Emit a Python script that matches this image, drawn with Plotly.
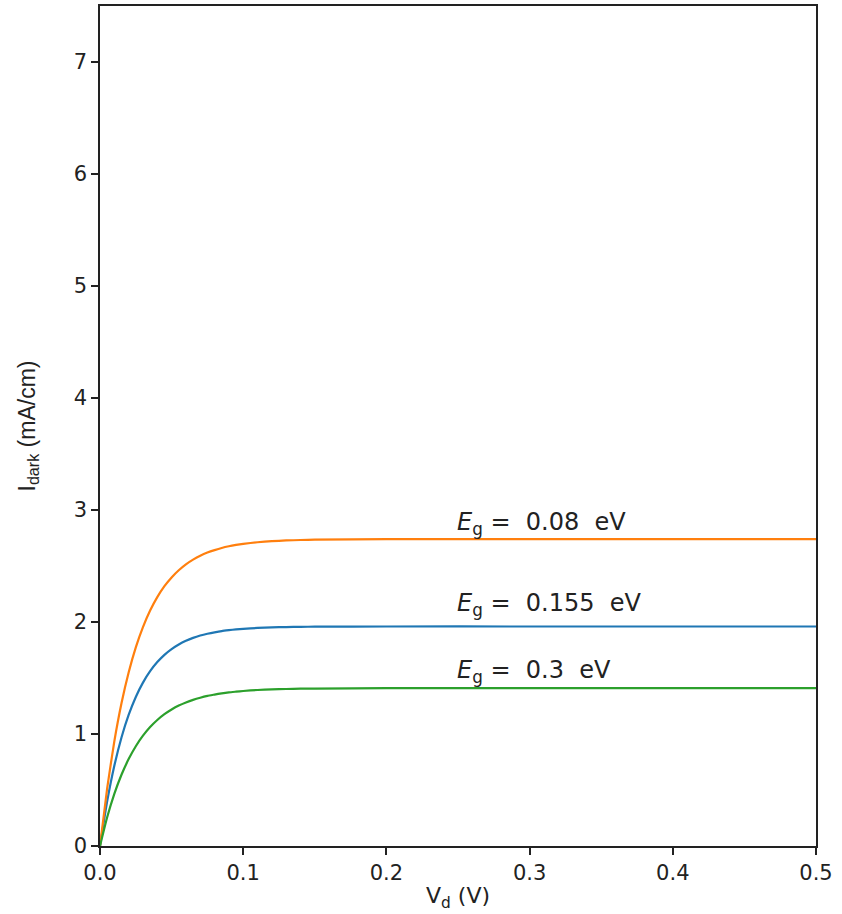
import plotly.graph_objects as go

# Values
vd = [0.0, 0.005, 0.01, 0.015, 0.02, 0.025, 0.03, 0.035, 0.04, 0.045, 0.05,
      0.055, 0.06, 0.065, 0.07, 0.075, 0.08, 0.085, 0.09, 0.095, 0.10,
      0.11, 0.12, 0.13, 0.14, 0.15, 0.20, 0.30, 0.40, 0.50]
i_008 = [0.0, 0.515, 0.934, 1.274, 1.549, 1.773, 1.954, 2.102, 2.222, 2.320, 2.398,
         2.462, 2.515, 2.557, 2.592, 2.620, 2.642, 2.661, 2.676, 2.688, 2.698,
         2.712, 2.722, 2.728, 2.732, 2.735, 2.740, 2.740, 2.740, 2.740]
i_0155 = [0.0, 0.398, 0.716, 0.969, 1.170, 1.331, 1.459, 1.561, 1.642, 1.707, 1.758,
          1.799, 1.832, 1.858, 1.879, 1.895, 1.908, 1.919, 1.927, 1.934, 1.939,
          1.947, 1.952, 1.955, 1.957, 1.958, 1.960, 1.960, 1.960, 1.960]
i_03 = [0.0, 0.256, 0.465, 0.636, 0.776, 0.891, 0.985, 1.062, 1.125, 1.177, 1.219,
        1.254, 1.282, 1.305, 1.324, 1.340, 1.352, 1.363, 1.372, 1.378, 1.384,
        1.393, 1.398, 1.402, 1.405, 1.406, 1.410, 1.410, 1.410, 1.410]

labels = ["0.08", "0.155", "0.3"]
label_x = [0.248, 0.248, 0.248]
label_y = [2.88, 2.16, 1.56]
series = [i_0155, i_008, i_03]
names = ["E_g = 0.155 eV", "E_g = 0.08 eV", "E_g = 0.3 eV"]
colors = ["#1f77b4", "#ff7f0e", "#2ca02c"]

x_ticks = [0.0, 0.1, 0.2, 0.3, 0.4, 0.5]
y_ticks = [0, 1, 2, 3, 4, 5, 6, 7]

fig = go.Figure()
for ys, nm, c in zip(series, names, colors):
    fig.add_trace(go.Scatter(x=vd, y=ys, mode="lines", name=nm,
                             line=dict(color=c, width=2.2, shape="spline", smoothing=0.5)))

for lx, ly, lb in zip(label_x, label_y, labels):
    fig.add_annotation(x=lx, y=ly, xref="x", yref="y", showarrow=False,
                       xanchor="left", yanchor="middle",
                       text=f"<i>E</i><sub>g</sub>&nbsp;=&nbsp;&nbsp;{lb}&nbsp;&nbsp;eV",
                       font=dict(family="DejaVu Sans", size=24, color="#222"))

axis_common = dict(showline=True, linecolor="#222", linewidth=1.5, mirror=True,
                   ticks="outside", ticklen=7, tickwidth=1.5, tickcolor="#222",
                   showgrid=False, zeroline=False,
                   tickfont=dict(family="DejaVu Sans", size=21, color="#222"))

fig.update_layout(
    width=842, height=914,
    margin=dict(l=100, r=26, t=4, b=68),
    plot_bgcolor="white", paper_bgcolor="white",
    showlegend=False,
    xaxis=dict(range=[0, 0.5], tickvals=x_ticks, tickformat=".1f",
               title=dict(text="V<sub>d</sub> (V)", standoff=4,
                          font=dict(family="DejaVu Sans", size=22, color="#222")),
               **axis_common),
    yaxis=dict(range=[0, 7.5], tickvals=y_ticks,
               title=dict(text="I<sub>dark</sub> (mA/cm)", standoff=32,
                          font=dict(family="Liberation Sans Narrow, Liberation Sans", size=23, color="#222")),
               **axis_common),
)

fig.write_html("out.html", config={"displayModeBar": False},
               post_script="document.body.style.margin='0px';")
